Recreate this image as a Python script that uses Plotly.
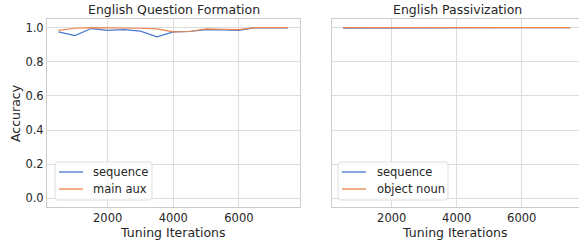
import plotly.graph_objects as go
from plotly.subplots import make_subplots

iterations = [500, 1000, 1500, 2000, 2500, 3000, 3500, 4000, 4500, 5000, 5500, 6000, 6500, 7000, 7500]
qf_sequence = [0.975, 0.953, 0.994, 0.983, 0.988, 0.979, 0.946, 0.975, 0.977, 0.988, 0.986, 0.984, 1.0, 1.0, 0.998]
qf_main_aux = [0.983, 0.996, 1.0, 1.0, 1.0, 0.996, 0.992, 0.975, 0.977, 0.992, 0.990, 0.988, 1.0, 1.0, 1.0]
pa_sequence = [0.997, 0.997, 0.996, 0.999, 1.0, 1.0, 1.0, 1.0, 1.0, 1.0, 1.0, 1.0, 1.0, 1.0, 1.0]
pa_object_noun = [1.0] * 15
titles = ["English Question Formation", "English Passivization"]
legend_left = ["sequence", "main aux"]
legend_right = ["sequence", "object noun"]
x_ticks = [2000, 4000, 6000]
y_ticks = [0.0, 0.2, 0.4, 0.6, 0.8, 1.0]

BLUE = "#4878d0"
ORANGE = "#ee854a"
TXT = "#262626"
FONT = "DejaVu Sans"

W, H = 579, 244
ML, MR, MT, MB = 47, 0, 19, 37
PW, PH = W - ML - MR, H - MT - MB


def px_x(px):
    return (px - ML) / PW


def px_y(py):
    return (H - MB - py) / PH


fig = make_subplots(rows=1, cols=2, shared_yaxes=True, horizontal_spacing=0.06)

fig.add_trace(go.Scatter(x=iterations, y=qf_sequence, mode="lines", name=legend_left[0],
                         line=dict(color=BLUE, width=1.2)), 1, 1)
fig.add_trace(go.Scatter(x=iterations, y=qf_main_aux, mode="lines", name=legend_left[1],
                         line=dict(color=ORANGE, width=1.2)), 1, 1)
fig.add_trace(go.Scatter(x=iterations, y=pa_sequence, mode="lines", name=legend_right[0],
                         line=dict(color=BLUE, width=1.2)), 1, 2)
fig.add_trace(go.Scatter(x=iterations, y=pa_object_noun, mode="lines", name=legend_right[1],
                         line=dict(color=ORANGE, width=1.2)), 1, 2)

axis_common = dict(showgrid=True, gridcolor="#dddddd", gridwidth=1, showline=True,
                   linecolor="#cccccc", linewidth=1, mirror=True, zeroline=False,
                   ticks="", automargin=False, tickfont=dict(family=FONT, size=11.5, color=TXT))

fig.update_xaxes(**axis_common, tickvals=x_ticks,
                 title=dict(text="Tuning Iterations", font=dict(family=FONT, size=12.5, color=TXT), standoff=0))
fig.update_xaxes(range=[150, 7850], domain=[0, px_x(299.6)], row=1, col=1)
fig.update_xaxes(range=[150, 7763], domain=[px_x(331.6), 1.0], row=1, col=2)
fig.update_yaxes(**axis_common, range=[-0.05, 1.05], tickvals=y_ticks, tickformat=".1f")
fig.update_yaxes(showticklabels=False, row=1, col=2)

# y-axis title
fig.add_annotation(text="Accuracy", x=px_x(15), y=px_y(113), xref="paper", yref="paper",
                   textangle=-90, showarrow=False, xanchor="center", yanchor="middle",
                   font=dict(family=FONT, size=12.5, color=TXT))

# subplot titles
title_centers = [(47.4 + 299.6) / 2, (331.6 + 583.8) / 2]
for t, c in zip(titles, title_centers):
    fig.add_annotation(text=t, x=px_x(c), y=1, xref="paper", yref="paper", xanchor="center",
                       yanchor="bottom", yshift=0, showarrow=False,
                       font=dict(family=FONT, size=12.5, color=TXT))

# legends (drawn manually to mimic matplotlib style)
def rounded_rect(x0, y0, x1, y1, r=3):
    X = lambda v: px_x(v)
    Y = lambda v: px_y(v)
    return (f"M {X(x0 + r)} {Y(y0)} L {X(x1 - r)} {Y(y0)} Q {X(x1)} {Y(y0)} {X(x1)} {Y(y0 + r)} "
            f"L {X(x1)} {Y(y1 - r)} Q {X(x1)} {Y(y1)} {X(x1 - r)} {Y(y1)} "
            f"L {X(x0 + r)} {Y(y1)} Q {X(x0)} {Y(y1)} {X(x0)} {Y(y1 - r)} "
            f"L {X(x0)} {Y(y0 + r)} Q {X(x0)} {Y(y0)} {X(x0 + r)} {Y(y0)} Z")


legend_boxes = [(55, 162, 152, 200, 59, 83, 91, legend_left),
                (338, 162, 448, 200, 342, 366, 375, legend_right)]
for bx0, by0, bx1, by1, lx0, lx1, tx, labels in legend_boxes:
    fig.add_shape(type="path", path=rounded_rect(bx0, by0, bx1, by1), xref="paper", yref="paper",
                  fillcolor="rgba(255,255,255,0.8)", line=dict(color="#dddddd", width=1), layer="above")
    for row_y, label, col in zip([172, 189], labels, [BLUE, ORANGE]):
        fig.add_shape(type="line", x0=px_x(lx0), x1=px_x(lx1), y0=px_y(row_y), y1=px_y(row_y),
                      xref="paper", yref="paper", line=dict(color=col, width=1.3), layer="above")
        fig.add_annotation(text=label, x=px_x(tx), y=px_y(row_y), xref="paper", yref="paper",
                           xanchor="left", yanchor="middle", showarrow=False,
                           font=dict(family=FONT, size=11.5, color=TXT))

fig.update_layout(
    width=W, height=H,
    margin=dict(l=ML, r=MR, t=MT, b=MB),
    paper_bgcolor="white", plot_bgcolor="white",
    showlegend=False,
)

fig.write_html("out.html", config={"displayModeBar": False},
               post_script="document.body.style.margin='0';document.body.style.overflow='hidden';")
